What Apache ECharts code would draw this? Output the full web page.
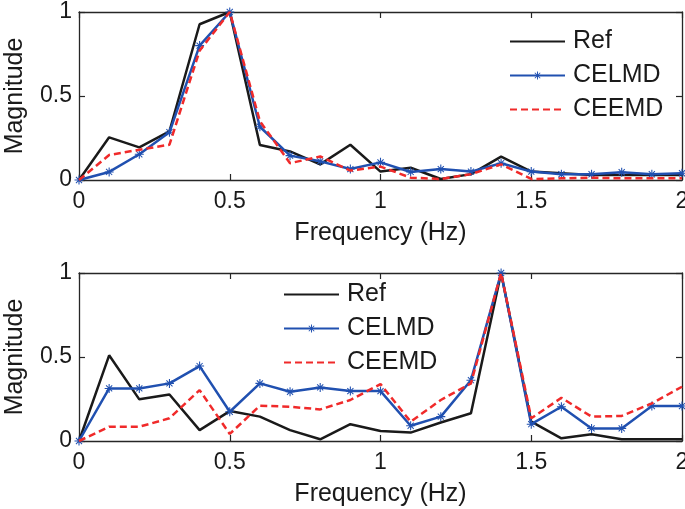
<!DOCTYPE html>
<html>
<head>
<meta charset="utf-8">
<script src="https://cdn.jsdelivr.net/npm/echarts@6/dist/echarts.min.js"></script>
<style>
  html, body { margin: 0; padding: 0; background: #fff; }
  #chart { width: 685px; height: 509px; }
</style>
</head>
<body>
<div id="chart"></div>
<script>
// frequency axis 0..2 Hz, step 0.1
var freq = [0, 0.1, 0.2, 0.3, 0.4, 0.5, 0.6, 0.7, 0.8, 0.9, 1.0,
            1.1, 1.2, 1.3, 1.4, 1.5, 1.6, 1.7, 1.8, 1.9, 2.0];

// upper panel
var refTop   = [0, 0.254, 0.194, 0.29, 0.927, 1, 0.208, 0.17, 0.093, 0.21, 0.05,
                0.073, 0.006, 0.035, 0.139, 0.05, 0.04, 0.03, 0.03, 0.03, 0.03];
var celmdTop = [0, 0.048, 0.153, 0.284, 0.80, 1, 0.317, 0.145, 0.111, 0.065, 0.105,
                0.048, 0.065, 0.05, 0.10, 0.05, 0.034, 0.034, 0.046, 0.034, 0.04];
var ceemdTop = [0, 0.149, 0.18, 0.21, 0.77, 1, 0.35, 0.10, 0.14, 0.056, 0.08,
                0.014, 0.006, 0.035, 0.093, 0.006, 0.01, 0.014, 0.01, 0.01, 0.01];

// lower panel
var refBot   = [0, 0.51, 0.248, 0.277, 0.065, 0.178, 0.145, 0.065, 0.01, 0.10, 0.06,
                0.05, 0.11, 0.165, 1, 0.115, 0.016, 0.04, 0.01, 0.01, 0.01];
var celmdBot = [0, 0.313, 0.313, 0.343, 0.446, 0.174, 0.343, 0.293, 0.319, 0.297, 0.297,
                0.091, 0.145, 0.362, 1, 0.10, 0.204, 0.075, 0.075, 0.208, 0.208];
var ceemdBot = [0, 0.085, 0.085, 0.135, 0.303, 0.042, 0.21, 0.204, 0.188, 0.244, 0.339,
                0.115, 0.244, 0.343, 1, 0.135, 0.257, 0.145, 0.149, 0.224, 0.323];

var legendNames = ['Ref', 'CELMD', 'CEEMD'];

function pairs(ys) {
    return freq.map(function (f, i) { return [f, ys[i]]; });
}

var font = 'Liberation Sans, Arial, sans-serif';
var axisCol = '#262626';
var star = 'path://M4.4,0 L5.6,0 L5.6,10 L4.4,10 Z M0,4.4 L10,4.4 L10,5.6 L0,5.6 Z M1.2,2 L2,1.2 L8.8,8 L8,8.8 Z M8,1.2 L8.8,2 L2,8.8 L1.2,8 Z';

function xAxisFor(grid, pos) {
    var main = pos === 'bottom';
    return {
        type: 'value', gridIndex: grid, position: pos,
        min: 0, max: 2, interval: 0.5,
        name: main ? 'Frequency (Hz)' : '',
        nameLocation: 'middle', nameGap: 41,
        nameTextStyle: { fontFamily: font, fontSize: 25, color: '#1a1a1a' },
        axisLine: { show: true, onZero: false, lineStyle: { color: axisCol, width: 1.3 } },
        axisTick: { show: true, inside: true, length: 6, lineStyle: { color: axisCol, width: 1.2 } },
        axisLabel: { show: main, fontFamily: font, fontSize: 23, color: '#1a1a1a', margin: 10,
                     formatter: function (v) { return String(v); } },
        splitLine: { show: false }
    };
}

function yAxisFor(grid, pos) {
    var main = pos === 'left';
    return {
        type: 'value', gridIndex: grid, position: pos,
        min: 0, max: 1, interval: 0.5,
        name: main ? 'Magnitude' : '',
        nameLocation: 'middle', nameGap: 51, nameRotate: 90,
        nameTextStyle: { fontFamily: font, fontSize: 25, color: '#1a1a1a' },
        axisLine: { show: true, onZero: false, lineStyle: { color: axisCol, width: 1.3 } },
        axisTick: { show: true, inside: true, length: 6, lineStyle: { color: axisCol, width: 1.2 } },
        axisLabel: { show: main, fontFamily: font, fontSize: 23, color: '#1a1a1a', margin: 7,
                     formatter: function (v) { return String(v); } },
        splitLine: { show: false }
    };
}

function seriesFor(grid, ref, celmd, ceemd) {
    return [
        { name: 'Ref', type: 'line', xAxisIndex: grid * 2, yAxisIndex: grid * 2,
          data: pairs(ref), symbol: 'none', z: 2,
          lineStyle: { color: '#1a1a1a', width: 2.5 }, itemStyle: { color: '#1a1a1a' } },
        { name: 'CELMD', type: 'line', xAxisIndex: grid * 2, yAxisIndex: grid * 2,
          data: pairs(celmd), symbol: star, symbolSize: 9, showSymbol: true, z: 3,
          lineStyle: { color: '#2050b0', width: 2.5 }, itemStyle: { color: '#2050b0' } },
        { name: 'CEEMD', type: 'line', xAxisIndex: grid * 2, yAxisIndex: grid * 2,
          data: pairs(ceemd), symbol: 'none', z: 4,
          lineStyle: { color: '#f02a2a', width: 2.5, type: [7, 4] }, itemStyle: { color: '#f02a2a' } }
    ];
}

function legendAt(left, top) {
    return {
        orient: 'vertical', left: left, top: top, padding: 0,
        itemWidth: 55, itemHeight: 10, itemGap: 9,
        data: legendNames.map(function (n) {
            // plain lines get no marker in the legend
            return n === 'CELMD' ? { name: n } : { name: n, itemStyle: { opacity: 0 } };
        }),
        textStyle: { fontFamily: font, fontSize: 25, color: '#1a1a1a', lineHeight: 25, padding: [0, 0, 0, 3] }
    };
}

var chart = echarts.init(document.getElementById('chart'));
chart.setOption({
    animation: false,
    backgroundColor: '#fff',
    grid: [
        { left: 79, right: 3, top: 12, height: 168, outerBoundsMode: 'none', containLabel: false },
        { left: 79, right: 3, top: 273, height: 168, outerBoundsMode: 'none', containLabel: false }
    ],
    xAxis: [xAxisFor(0, 'bottom'), xAxisFor(0, 'top'), xAxisFor(1, 'bottom'), xAxisFor(1, 'top')],
    yAxis: [yAxisFor(0, 'left'), yAxisFor(0, 'right'), yAxisFor(1, 'left'), yAxisFor(1, 'right')],
    legend: [legendAt(509, 29), legendAt(283, 282)],
    series: seriesFor(0, refTop, celmdTop, ceemdTop).concat(seriesFor(1, refBot, celmdBot, ceemdBot))
});
</script>
</body>
</html>
